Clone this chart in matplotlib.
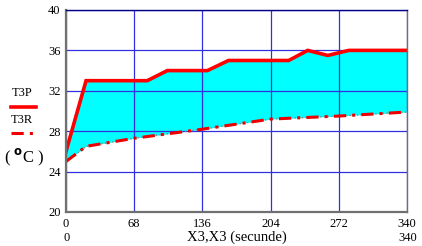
import matplotlib.pyplot as plt
import numpy as np

# data
t3p_x = [0, 20, 81, 101, 141, 162, 222, 241, 261, 282, 340]
t3p_y = [26.0, 33.0, 33.0, 34.0, 34.0, 35.0, 35.0, 36.0, 35.5, 36.0, 36.0]
t3r_x = [0, 20, 68, 136, 204, 272, 340]
t3r_y = [25.0, 26.5, 27.3, 28.2, 29.2, 29.5, 29.9]
x_ticks = [0, 68, 136, 204, 272, 340]
y_ticks = [20, 24, 28, 32, 36, 40]

grid_x = np.union1d(t3p_x, t3r_x)
p_int = np.interp(grid_x, t3p_x, t3p_y)
r_int = np.interp(grid_x, t3r_x, t3r_y)

plt.rcParams['font.family'] = ['Liberation Serif', 'DejaVu Serif']

fig = plt.figure(figsize=(4.22, 2.46), dpi=100)
ax = fig.add_axes([66 / 422, 1 - 212 / 246, 341 / 422, 202 / 246])

ax.fill_between(grid_x, r_int, p_int, color='#00ffff', lw=0, zorder=1)
ax.plot(t3p_x, t3p_y, color='#ff0000', lw=2.6, zorder=3, solid_joinstyle='miter')
ax.plot(t3r_x, t3r_y, color='#888888', lw=1.0, ls=':', zorder=3)
ax.plot(t3r_x, t3r_y, color='#ee0000', lw=2.2, ls=(0, (4, 2, 1, 2)), zorder=4)

ax.set_xlim(0, 340)
ax.set_ylim(20, 40)
ax.set_xticks(x_ticks)
ax.set_yticks(y_ticks)
ax.grid(True, color='#3030e0', lw=0.9, zorder=2)
ax.set_axisbelow(False)
ax.tick_params(length=0, labelsize=9, pad=4)

for side in ['left', 'bottom']:
    ax.spines[side].set_color('#707070')
    ax.spines[side].set_linewidth(1.6)
ax.spines['right'].set_color('#707070')
ax.spines['right'].set_linewidth(1.0)
ax.spines['top'].set_color('#000080')
ax.spines['top'].set_linewidth(1.0)
for s in ax.spines.values():
    s.set_zorder(5)

ax.set_xlabel('X3,X3 (secunde)', fontsize=10.5, labelpad=1)

# range labels under the axis
fig.text(67 / 422, 1 - 238 / 246, '0', fontsize=9, ha='center', va='center')
fig.text(408 / 422, 1 - 238 / 246, '340', fontsize=9, ha='center', va='center')

# legend on the left
fig.text(22 / 422, 1 - 93 / 246, 'T3P', fontsize=9, ha='center', va='center')
fig.add_artist(plt.Line2D([11 / 422, 36 / 422], [1 - 107 / 246] * 2,
                          color='#ff0000', lw=2.6))
fig.text(22 / 422, 1 - 120 / 246, 'T3R', fontsize=9, ha='center', va='center')
fig.add_artist(plt.Line2D([11 / 422, 36 / 422], [1 - 133 / 246] * 2,
                          color='#ee0000', lw=2.2, ls=(0, (4, 2, 1, 2))))
fig.text(24 / 422, 1 - 157 / 246, r'( $^{\mathbf{o}}$C )', fontsize=12,
         ha='center', va='center')

fig.savefig('out.png', dpi=100)
